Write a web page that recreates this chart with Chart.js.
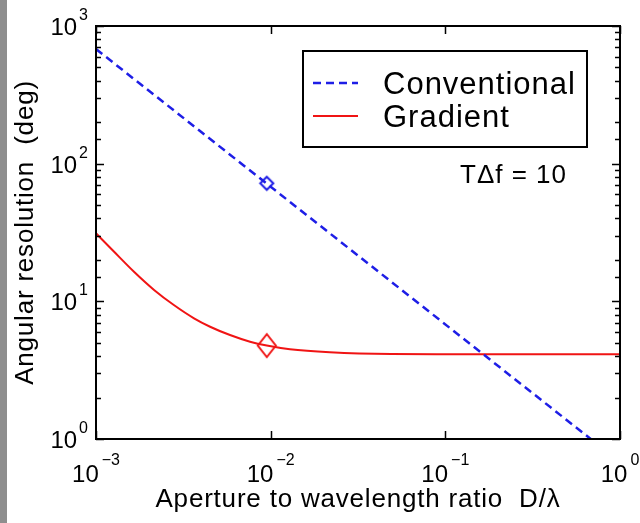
<!DOCTYPE html>
<html>
<head>
<meta charset="utf-8">
<title>Angular resolution vs aperture</title>
<script src="https://cdn.jsdelivr.net/npm/chart.js@4/dist/chart.umd.min.js"></script>
<style>
  html, body { margin: 0; padding: 0; background: #fff; }
  #wrap {
    position: relative;
    width: 640px;
    height: 523px;
    background: linear-gradient(to right, #8e8e8e 7px, #ffffff 7px);
  }
</style>
</head>
<body>
<div id="wrap"><canvas id="chart"></canvas></div>
<script>
// ---- data ----
const convX = [0.001, 0.68];
const convY = [680, 1];

const gradX = [0.001, 0.00127, 0.00165, 0.00215, 0.00279, 0.00364, 0.0045, 0.00585, 0.00762, 0.0095, 0.0129, 0.0218, 0.049, 0.1, 1];
const gradY = [31.2, 22.9, 16.4, 12.1, 9.4, 7.53, 6.54, 5.69, 5.09, 4.77, 4.48, 4.26, 4.14, 4.13, 4.12];

const markerX = [0.0095];
const convMarkerY = [72];
const gradMarkerY = [4.77];

const legendLabels = ['Conventional', 'Gradient'];
const noteText = 'TΔf = 10';

const BLUE = 'rgb(30, 30, 230)';
const RED = 'rgb(240, 20, 20)';
const FONT = '"Liberation Sans", Arial, Helvetica, sans-serif';

Chart.defaults.font.family = FONT;
Chart.defaults.color = '#000';

const toPoints = (xs, ys) => xs.map((x, i) => ({ x, y: ys[i] }));

// hollow diamond used as point style
function makeDiamond(w, h, color) {
  const c = document.createElement('canvas');
  c.width = w + 4;
  c.height = h + 4;
  const g = c.getContext('2d');
  const cx = c.width / 2, cy = c.height / 2;
  g.strokeStyle = color;
  g.lineWidth = 2;
  g.beginPath();
  g.moveTo(cx, cy - h / 2);
  g.lineTo(cx + w / 2, cy);
  g.lineTo(cx, cy + h / 2);
  g.lineTo(cx - w / 2, cy);
  g.closePath();
  g.stroke();
  return c;
}

const isDecade = v => {
  const l = Math.log10(v);
  return Math.abs(l - Math.round(l)) < 1e-6;
};

// frame, inward ticks, 10^n labels, legend box and note
const decorations = {
  id: 'decorations',
  beforeDraw(chart) {
    // axis titles come out a little wide in the original lettering
    chart.ctx.letterSpacing = '0.8px';
  },
  afterDraw(chart) {
    const { ctx, chartArea: a, scales } = chart;
    ctx.save();
    ctx.letterSpacing = '0px';
    ctx.strokeStyle = '#000';
    ctx.fillStyle = '#000';
    ctx.lineWidth = 2;
    ctx.strokeRect(a.left, a.top, a.right - a.left, a.bottom - a.top);

    // y ticks (major + minor, both sides)
    ctx.lineWidth = 1.5;
    scales.y.ticks.forEach(t => {
      const py = Math.round(scales.y.getPixelForValue(t.value)) + 0.5;
      const len = isDecade(t.value) ? 8 : 5;
      ctx.beginPath();
      ctx.moveTo(a.left, py); ctx.lineTo(a.left + len, py);
      ctx.moveTo(a.right, py); ctx.lineTo(a.right - len, py);
      ctx.stroke();
    });
    // x ticks (decades only)
    scales.x.ticks.filter(t => isDecade(t.value)).forEach(t => {
      const px = Math.round(scales.x.getPixelForValue(t.value)) + 0.5;
      ctx.beginPath();
      ctx.moveTo(px, a.bottom); ctx.lineTo(px, a.bottom - 8);
      ctx.moveTo(px, a.top); ctx.lineTo(px, a.top + 8);
      ctx.stroke();
    });

    const expText = v => {
      const n = Math.round(Math.log10(v));
      return n < 0 ? '\u2212' + Math.abs(n) : String(n);
    };

    // y labels
    ctx.textBaseline = 'alphabetic';
    ctx.textAlign = 'left';
    scales.y.ticks.filter(t => isDecade(t.value)).forEach(t => {
      const py = scales.y.getPixelForValue(t.value);
      const e = expText(t.value);
      ctx.font = '16px ' + FONT;
      const ew = ctx.measureText(e).width;
      ctx.font = '24px ' + FONT;
      const bw = ctx.measureText('10').width;
      const right = a.left - 8;
      ctx.fillText('10', right - ew - 2 - bw, py + 9);
      ctx.font = '16px ' + FONT;
      ctx.fillText(e, right - ew, py - 6);
    });

    // x labels
    scales.x.ticks.filter(t => isDecade(t.value)).forEach(t => {
      const px = scales.x.getPixelForValue(t.value);
      const e = expText(t.value);
      ctx.font = '16px ' + FONT;
      const ew = ctx.measureText(e).width;
      ctx.font = '24px ' + FONT;
      const bw = ctx.measureText('10').width;
      const start = px - (bw + 3 + ew) / 2;
      ctx.fillText('10', start, a.bottom + 43);
      ctx.font = '16px ' + FONT;
      ctx.fillText(e, start + bw + 3, a.bottom + 26);
    });

    // legend
    const lines = chart.data.datasets.slice(0, 2);
    ctx.lineWidth = 2;
    ctx.strokeStyle = '#000';
    ctx.strokeRect(303, 51, 284, 96);
    const rows = [83, 116];
    lines.forEach((ds, i) => {
      ctx.save();
      ctx.strokeStyle = ds.borderColor;
      ctx.lineWidth = ds.borderWidth;
      ctx.setLineDash(ds.borderDash || []);
      ctx.beginPath();
      ctx.moveTo(313, rows[i]);
      ctx.lineTo(358, rows[i]);
      ctx.stroke();
      ctx.restore();
      ctx.font = '31px ' + FONT;
      ctx.letterSpacing = '1px';
      ctx.fillText(legendLabels[i], 383, rows[i] + 11);
    });

    ctx.font = '26px ' + FONT;
    ctx.letterSpacing = '1px';
    ctx.fillText(noteText, 460, 183);
    ctx.restore();
  }
};

new Chart(document.getElementById('chart'), {
  type: 'line',
  data: {
    datasets: [
      {
        label: legendLabels[0],
        data: toPoints(convX, convY),
        borderColor: BLUE,
        borderWidth: 2.5,
        borderDash: [8, 5],
        pointRadius: 0,
        fill: false
      },
      {
        label: legendLabels[1],
        data: toPoints(gradX, gradY),
        borderColor: RED,
        borderWidth: 2,
        cubicInterpolationMode: 'monotone',
        pointRadius: 0,
        fill: false
      },
      {
        data: toPoints(markerX, convMarkerY),
        showLine: false,
        pointStyle: makeDiamond(13, 13, BLUE),
        pointRadius: 8
      },
      {
        data: toPoints(markerX, gradMarkerY),
        showLine: false,
        pointStyle: makeDiamond(18, 23, RED),
        pointRadius: 12
      }
    ]
  },
  options: {
    responsive: true,
    maintainAspectRatio: false,
    animation: false,
    layout: { padding: { top: 26, right: 20, left: 0, bottom: 0 } },
    plugins: { legend: { display: false }, tooltip: { enabled: false } },
    scales: {
      x: {
        type: 'logarithmic',
        min: 0.001,
        max: 1,
        grid: { display: false },
        border: { display: false },
        ticks: { display: false, autoSkip: false },
        title: {
          display: true,
          text: 'Aperture to wavelength ratio  D/λ',
          font: { size: 26 },
          padding: { top: 0, bottom: 8 }
        },
        afterFit(scale) { scale.height = 84; }
      },
      y: {
        type: 'logarithmic',
        min: 1,
        max: 1000,
        grid: { display: false },
        border: { display: false },
        ticks: { display: false, autoSkip: false },
        title: {
          display: true,
          text: 'Angular resolution  (deg)',
          font: { size: 26 },
          padding: { top: 10, bottom: 0 }
        },
        afterFit(scale) { scale.width = 96; }
      }
    }
  },
  plugins: [decorations]
});
</script>
</body>
</html>
